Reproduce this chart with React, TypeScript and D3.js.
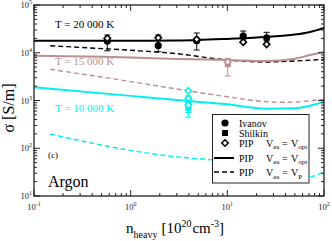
import React from "react";
import * as d3 from "d3";

// ---- data ----
const solid20N = [0.1, 1, 3, 5, 10, 25, 50, 70, 100];
const solid20S = [17870, 17780, 17990, 18410, 19500, 21380, 23990, 26920, 33110];
const dashed20N = [0.147, 0.3, 1, 3, 10, 25, 50, 100];
const dashed20S = [14060, 12940, 11270, 9550, 7050, 6400, 6710, 7290];

const solid15N = [0.1, 1, 3, 10, 25, 50, 70, 100];
const solid15S = [8670, 8000, 7430, 7050, 6710, 7520, 8850, 10380];
const dashed15N = [0.147, 1, 3, 10, 25, 40, 70, 100];
const dashed15S = [4500, 2490, 1740, 1200, 945, 920, 980, 1075];

const solid10N = [0.1, 1, 3, 10, 25, 50, 70, 100];
const solid10S = [1890, 1250, 1020, 830, 675, 686, 767, 944];
const dashed10N = [0.147, 1, 3, 7, 20, 40, 68, 100];
const dashed10S = [199, 90, 66, 57, 42, 31, 25, 32];

const ivanovN = [0.573, 1.93, 4.82, 14.6, 25.5];
const ivanovS = [17600, 14100, 17900, 22400, 20600];
const ivanovLo = [11000, 10500, 11400, 18500, 17600];
const ivanovHi = [23500, 23500, 25900, 28500, 26800];
const pip20N = [0.573, 1.93, 4.82, 14.6, 25.5];
const pip20S = [20100, 20600, 19100, 16600, 15000];

const shilkin15N = [10.1];
const shilkin15S = [5750];
const shilkin15Lo = [3250];
const shilkin15Hi = [7600];
const pip15N = [10.1];
const pip15S = [6400];

const shilkin10N = [3.95, 3.95];
const shilkin10S = [950, 690];
const shilkin10Lo = [560, 450];
const shilkin10Hi = [1250, 900];
const pip10N = [3.95, 3.95, 3.95];
const pip10S = [1600, 1110, 805];

const xTickExp = [-1, 0, 1, 2];
const yTickExp = [1, 2, 3, 4, 5];

const BLACK = "#000";
const PINK = "#bc8f8f";
const CYAN = "#00f0f0";
const FONT = "'Liberation Serif', 'DejaVu Serif', serif";

const L = 34, R = 324, T = 5, B = 196;

export default function App() {
  const x = d3.scaleLog().domain([0.1, 100]).range([L, R]);
  const y = d3.scaleLog().domain([10, 100000]).range([B, T]);
  const line = d3
    .line<[number, number]>()
    .x((d) => x(d[0]))
    .y((d) => y(d[1]))
    .curve(d3.curveMonotoneX);
  const pts = (ns: number[], ss: number[]) => ns.map((n, i) => [n, ss[i]] as [number, number]);

  const xMinor: number[] = [];
  for (let e = -1; e < 2; e++) for (let k = 2; k <= 9; k++) xMinor.push(k * Math.pow(10, e));
  const yMinor: number[] = [];
  for (let e = 1; e < 5; e++) for (let k = 2; k <= 9; k++) yMinor.push(k * Math.pow(10, e));

  const diamond = (cx: number, cy: number, r: number) =>
    `M${cx},${cy - r}L${cx + r},${cy}L${cx},${cy + r}L${cx - r},${cy}Z`;

  const errBars = (ns: number[], lo: number[], hi: number[], color: string) =>
    ns.map((n, i) => (
      <g key={"e" + i} stroke={color} strokeWidth={1}>
        <line x1={x(n)} x2={x(n)} y1={y(lo[i])} y2={y(hi[i])} />
        <line x1={x(n) - 3} x2={x(n) + 3} y1={y(lo[i])} y2={y(lo[i])} />
        <line x1={x(n) - 3} x2={x(n) + 3} y1={y(hi[i])} y2={y(hi[i])} />
      </g>
    ));

  const diamonds = (ns: number[], ss: number[], color: string) =>
    ns.map((n, i) => (
      <path key={"d" + i} d={diamond(x(n), y(ss[i]), 3.2)} fill="#fff" stroke={color} strokeWidth={1.6} />
    ));

  const squares = (ns: number[], ss: number[], color: string) =>
    ns.map((n, i) => (
      <rect key={"s" + i} x={x(n) - 3} y={y(ss[i]) - 3} width={6} height={6} fill={color} />
    ));

  return (
    <svg
      width={332}
      height={241}
      style={{ position: "absolute", left: 0, top: 0, background: "#fff" }}
      fontFamily={FONT}
    >
      <rect x={0} y={0} width={332} height={241} fill="#fff" />
      <defs>
        <clipPath id="plot">
          <rect x={L} y={T} width={R - L} height={B - T} />
        </clipPath>
      </defs>

      <g clipPath="url(#plot)" fill="none">
        <path d={line(pts(solid20N, solid20S)) || ""} stroke={BLACK} strokeWidth={2} />
        <path d={line(pts(dashed20N, dashed20S)) || ""} stroke={BLACK} strokeWidth={1.4} strokeDasharray="5,3" />
        <path d={line(pts(solid15N, solid15S)) || ""} stroke={PINK} strokeWidth={2} />
        <path d={line(pts(dashed15N, dashed15S)) || ""} stroke={PINK} strokeWidth={1.4} strokeDasharray="5,3" />
        <path d={line(pts(solid10N, solid10S)) || ""} stroke={CYAN} strokeWidth={2} />
        <path d={line(pts(dashed10N, dashed10S)) || ""} stroke={CYAN} strokeWidth={1.4} strokeDasharray="5,3" />
      </g>

      {/* markers */}
      {errBars(ivanovN, ivanovLo, ivanovHi, BLACK)}
      {ivanovN.map((n, i) => (
        <circle key={"c" + i} cx={x(n)} cy={y(ivanovS[i])} r={3.6} fill={BLACK} />
      ))}
      {diamonds(pip20N, pip20S, BLACK)}

      {errBars(shilkin15N, shilkin15Lo, shilkin15Hi, PINK)}
      {squares(shilkin15N, shilkin15S, PINK)}
      {diamonds(pip15N, pip15S, PINK)}

      {errBars(shilkin10N, shilkin10Lo, shilkin10Hi, CYAN)}
      {squares(shilkin10N, shilkin10S, CYAN)}
      {diamonds(pip10N, pip10S, CYAN)}

      {/* frame and ticks */}
      <rect x={L} y={T} width={R - L} height={B - T} fill="none" stroke="#222" strokeWidth={1.3} />
      <g stroke="#222" strokeWidth={1}>
        {xTickExp.map((e) => {
          const px = x(Math.pow(10, e));
          return (
            <g key={"xt" + e}>
              <line x1={px} x2={px} y1={B} y2={B - 6} />
              <line x1={px} x2={px} y1={T} y2={T + 6} />
            </g>
          );
        })}
        {xMinor.map((v, i) => (
          <g key={"xm" + i}>
            <line x1={x(v)} x2={x(v)} y1={B} y2={B - 3} />
            <line x1={x(v)} x2={x(v)} y1={T} y2={T + 3} />
          </g>
        ))}
        {yTickExp.map((e) => {
          const py = y(Math.pow(10, e));
          return (
            <g key={"yt" + e}>
              <line x1={L} x2={L + 6} y1={py} y2={py} />
              <line x1={R} x2={R - 6} y1={py} y2={py} />
            </g>
          );
        })}
        {yMinor.map((v, i) => (
          <g key={"ym" + i}>
            <line x1={L} x2={L + 3} y1={y(v)} y2={y(v)} />
            <line x1={R} x2={R - 3} y1={y(v)} y2={y(v)} />
          </g>
        ))}
      </g>

      {/* tick labels */}
      {xTickExp.map((e) => (
        <text key={"xl" + e} x={x(Math.pow(10, e))} y={210} textAnchor="middle" fontSize={8.5} fill="#222">
          <tspan>10</tspan>
          <tspan dy={-4} fontSize={6}>{e === -1 ? "-1" : String(e)}</tspan>
        </text>
      ))}
      {yTickExp.map((e) => (
        <text key={"yl" + e} x={32} y={y(Math.pow(10, e)) + 3} textAnchor="end" fontSize={8.5} fill="#222">
          <tspan>10</tspan>
          <tspan dy={-4} fontSize={6}>{String(e)}</tspan>
        </text>
      ))}

      {/* annotations */}
      <text x={55} y={28} fontSize={11} fill={BLACK}>T = 20 000 K</text>
      <text x={55} y={65} fontSize={11} fill={PINK}>T = 15 000 K</text>
      <text x={55} y={112} fontSize={11} fill={CYAN}>T = 10 000 K</text>
      <text x={48} y={158} fontSize={9} fill={BLACK}>(c)</text>
      <text x={48} y={187} fontSize={16} fill={BLACK}>Argon</text>

      {/* axis titles */}
      <text transform="translate(14,108) rotate(-90)" textAnchor="middle" fontSize={16} fill={BLACK}>
        σ [S/m]
      </text>
      <text x={126} y={233} fontSize={15} fill={BLACK}>
        <tspan>n</tspan>
        <tspan dy={5} fontSize={10}>heavy</tspan>
        <tspan dy={-5} dx={4}>[10</tspan>
        <tspan dy={-6} fontSize={10}>20</tspan>
        <tspan dy={6} dx={1}>cm</tspan>
        <tspan dy={-6} fontSize={10}>-3</tspan>
        <tspan dy={6}>]</tspan>
      </text>

      {/* legend */}
      <g>
        <rect x={212.5} y={114.5} width={96.5} height={68.5} fill="#fff" stroke="#222" strokeWidth={1} />
        <circle cx={225} cy={123} r={3.6} fill={BLACK} />
        <rect x={222} y={130} width={6} height={6} fill={BLACK} />
        <path d={diamond(225, 143, 3.2)} fill="#fff" stroke={BLACK} strokeWidth={1.6} />
        <line x1={214} x2={234} y1={158} y2={158} stroke={BLACK} strokeWidth={2} />
        <line x1={214} x2={234} y1={172} y2={172} stroke={BLACK} strokeWidth={1.4} strokeDasharray="5,3" />
        <g fontSize={10} fill={BLACK}>
          <text x={239} y={126.5}>Ivanov</text>
          <text x={239} y={136.5}>Shilkin</text>
          {[{ yy: 146.5, sub: "opt" }, { yy: 161.5, sub: "opt" }, { yy: 176, sub: "P" }].map((r, i) => (
            <g key={"lg" + i}>
              <text x={239} y={r.yy}>PIP</text>
              <text x={266} y={r.yy}>
                <tspan>V</tspan>
                <tspan dy={2.5} fontSize={7}>ea</tspan>
              </text>
              <text x={282} y={r.yy}>=</text>
              <text x={291} y={r.yy}>
                <tspan>V</tspan>
                <tspan dy={2.5} fontSize={7}>{r.sub}</tspan>
              </text>
            </g>
          ))}
        </g>
      </g>
    </svg>
  );
}
